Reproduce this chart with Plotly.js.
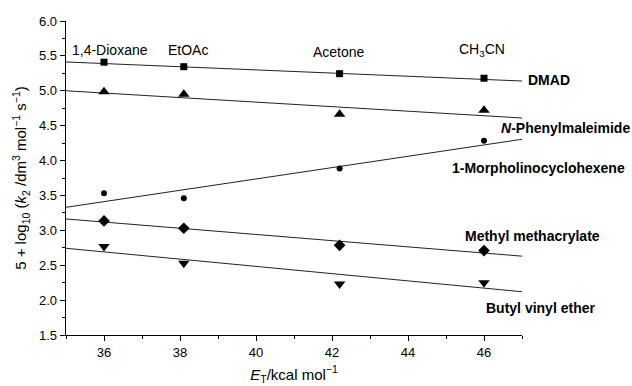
<!DOCTYPE html>
<html>
<head>
<meta charset="utf-8">
<script src="https://cdn.plot.ly/plotly-3.0.1.min.js"></script>
<style>html,body{margin:0;padding:0;background:#fff;}#chart{width:632px;height:386px;}</style>
</head>
<body>
<div id="chart"></div>
<script>
// Solvent E_T values (x) and names
const solvents = ["1,4-Dioxane", "EtOAc", "Acetone", "CH<sub>3</sub>CN"];
const solventET = [36.0, 38.1, 42.2, 46.0];
const solventLabelX = [36.15, 38.21, 42.18, 45.94];
const solventLabelY = [5.59, 5.59, 5.56, 5.59];

// Series measured values
const dmad = [5.41, 5.345, 5.245, 5.18];
const phenylmaleimide = [4.985, 4.95, 4.665, 4.72];
const morpholino = [3.53, 3.46, 3.885, 4.285];
const mma = [3.135, 3.03, 2.785, 2.71];
const bve = [2.77, 2.53, 2.23, 2.25];

// Fitted line endpoints (x range and y at each end)
const fitX = [35, 47];
const dmadFit = [5.413, 5.14];
const phenylFit = [5.0, 4.61];
const morphFit = [3.33, 4.305];
const mmaFit = [3.163, 2.63];
const bveFit = [2.743, 2.12];

// Series label text and positions (x in E_T units, may lie right of the axis end)
const seriesLabels = ["DMAD", "<i>N</i>-Phenylmaleimide", "1-Morpholinocyclohexene", "Methyl methacrylate", "Butyl vinyl ether"];
const seriesLabelX = [47.1, 46.4, 45.1, 45.45, 46.0];
const seriesLabelY = [5.15, 4.47, 3.89, 2.92, 1.88];

const xRange = [35, 47];
const font = "Liberation Sans, Arial, Helvetica, sans-serif";

function pts(y, symbol, size) {
  return {x: solventET, y: y, mode: "markers", type: "scatter",
    marker: {symbol: symbol, size: size, color: "#000"}, showlegend: false, hoverinfo: "skip", cliponaxis: false};
}
function fit(y) {
  return {x: fitX, y: y, mode: "lines", type: "scatter",
    line: {color: "#222", width: 1}, showlegend: false, hoverinfo: "skip"};
}

const data = [
  fit(dmadFit), fit(phenylFit), fit(morphFit), fit(mmaFit), fit(bveFit),
  pts(dmad, "square", 7),
  pts(phenylmaleimide, "triangle-up", 10),
  pts(morpholino, "circle", 6),
  pts(mma, "diamond", 9),
  pts(bve, "triangle-down", 10)
];

const annotations = [];
solvents.forEach((s, i) => annotations.push({x: solventLabelX[i], y: solventLabelY[i], xref: "x", yref: "y",
  text: s, showarrow: false, font: {family: font, size: 14, color: "#000"}, xanchor: "center", yanchor: "middle"}));
seriesLabels.forEach((s, i) => annotations.push({
  x: (seriesLabelX[i] - xRange[0]) / (xRange[1] - xRange[0]), y: seriesLabelY[i], xref: "paper", yref: "y",
  text: "<b>" + s + "</b>", showarrow: false, font: {family: font, size: 14, color: "#000"}, xanchor: "left", yanchor: "middle"}));

const layout = {
  width: 632, height: 386,
  margin: {l: 66, r: 110, t: 21, b: 51},
  paper_bgcolor: "#fff", plot_bgcolor: "#fff",
  font: {family: font, color: "#000"},
  showlegend: false,
  xaxis: {
    range: xRange, tick0: 36, dtick: 2, ticks: "outside", ticklen: 5, tickwidth: 1, tickcolor: "#000",
    minor: {dtick: 1, ticks: "outside", ticklen: 3, tickcolor: "#000", tickwidth: 1},
    showgrid: false, zeroline: false, showline: true, linecolor: "#000", linewidth: 1.3,
    tickfont: {family: font, size: 13, color: "#000"},
    title: {text: "<i>E</i><sub>T</sub>/kcal mol<sup>−1</sup>", font: {family: font, size: 15, color: "#000"}, standoff: 10}
  },
  yaxis: {
    range: [1.5, 6.0], tick0: 1.5, dtick: 0.5, ticks: "outside", ticklen: 5, tickwidth: 1, tickcolor: "#000",
    minor: {dtick: 0.25, ticks: "outside", ticklen: 3, tickcolor: "#000", tickwidth: 1},
    tickformat: ".1f",
    showgrid: false, zeroline: false, showline: true, linecolor: "#000", linewidth: 1.3,
    tickfont: {family: font, size: 13, color: "#000"},
    title: {text: "5 + log<sub>10</sub> (<i>k</i><sub>2</sub> /dm<sup>3</sup> mol<sup>−1</sup> s<sup>−1</sup>)", font: {family: font, size: 15, color: "#000"}, standoff: 8}
  },
  annotations: annotations
};

Plotly.newPlot("chart", data, layout, {displayModeBar: false, staticPlot: true});
</script>
</body>
</html>
